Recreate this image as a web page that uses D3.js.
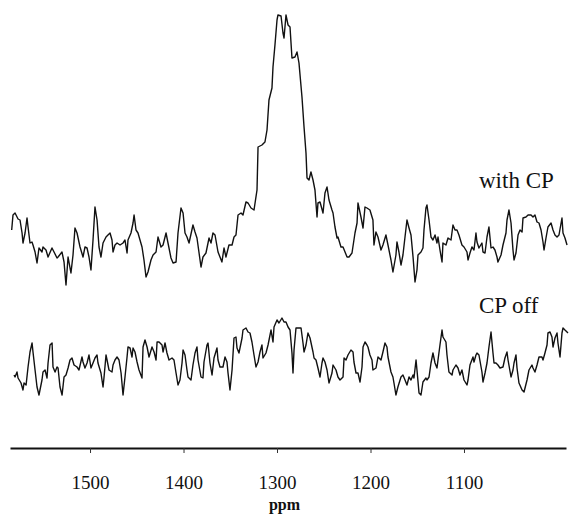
<!DOCTYPE html>
<html>
<head>
<meta charset="utf-8">
<script src="https://cdn.jsdelivr.net/npm/d3@7"></script>
<style>
  body { margin: 0; background: #fff; }
  svg { display: block; }
  .trace { fill: none; stroke: #111; stroke-width: 1.4; stroke-linejoin: round; }
  .label { font-family: "Liberation Serif", "Times New Roman", serif; font-size: 23px; fill: #111; }
</style>
</head>
<body>
<div id="chart"></div>
<script>
// spectrum with cross polarisation, [ppm, intensity a.u.]
const withCP = [
  [1583.8,20],[1582.4,35],[1580.2,37],[1577.0,31],[1574.9,30],[1572.7,17],[1571.7,7],[1569.5,17],
  [1567.4,32],[1566.3,23],[1564.2,7],[1562.1,8],[1561.0,5],[1558.8,-2],[1556.7,-13],[1554.6,2],
  [1551.4,-2],[1550.3,3],[1547.1,0],[1544.9,-7],[1540.7,2],[1538.5,-2],[1535.3,-8],[1534.2,-7],
  [1530.0,-2],[1527.8,-12],[1525.7,-35],[1523.5,-7],[1520.4,-23],[1518.2,-5],[1516.1,22],[1513.9,17],
  [1510.7,3],[1507.5,-7],[1505.4,3],[1503.2,2],[1501.1,-7],[1499.0,-20],[1496.8,10],[1494.7,43],
  [1492.5,30],[1490.4,3],[1488.3,-7],[1486.1,7],[1482.9,13],[1480.8,15],[1478.6,17],[1476.5,10],
  [1475.4,-2],[1473.3,5],[1471.1,7],[1467.9,5],[1464.7,7],[1462.6,10],[1460.4,-3],[1459.4,10],
  [1456.2,17],[1454.0,27],[1452.9,35],[1450.8,20],[1448.7,17],[1444.4,3],[1442.3,-10],[1440.1,-27],
  [1438.0,-22],[1434.8,-10],[1432.6,-5],[1429.4,-2],[1427.3,13],[1424.1,3],[1421.9,5],[1418.7,17],
  [1416.6,7],[1413.4,-8],[1411.2,-13],[1408.0,-12],[1405.9,17],[1402.7,42],[1400.5,37],[1398.4,17],
  [1396.3,13],[1394.1,7],[1389.9,25],[1387.7,18],[1385.6,12],[1381.3,-17],[1379.2,-7],[1376.0,-3],
  [1372.7,12],[1370.6,7],[1368.5,17],[1366.3,15],[1363.1,-2],[1358.9,-12],[1356.7,2],[1354.6,-7],
  [1351.4,5],[1348.1,5],[1346.0,13],[1343.9,15],[1341.7,35],[1338.5,37],[1336.4,35],[1333.2,48],
  [1331.0,47],[1327.8,42],[1324.6,40],[1321.4,60],[1320.3,103],[1316.1,105],[1312.9,108],[1310.7,120],
  [1308.6,150],[1305.4,162],[1304.3,183],[1302.2,205],[1300.0,230],[1299.0,235],[1295.7,234],[1293.6,217],
  [1292.5,212],[1290.4,235],[1288.2,225],[1286.1,223],[1284.0,192],[1280.8,193],[1278.6,198],[1276.5,187],
  [1273.3,153],[1271.1,123],[1269.0,97],[1267.9,72],[1265.8,70],[1263.7,78],[1261.5,70],[1259.4,60],
  [1257.2,33],[1256.2,47],[1254.0,48],[1250.8,37],[1248.7,57],[1246.5,63],[1244.4,50],[1241.2,40],
  [1240.1,37],[1238.0,23],[1235.8,12],[1234.8,13],[1231.6,3],[1229.4,3],[1225.1,-7],[1223.0,-7],
  [1219.8,-3],[1216.6,17],[1214.4,27],[1213.4,47],[1210.2,33],[1208.0,22],[1205.9,43],[1203.8,42],
  [1200.6,40],[1197.4,30],[1196.3,5],[1194.2,18],[1192.0,13],[1188.8,0],[1186.7,5],[1183.5,15],
  [1181.3,5],[1178.1,-10],[1176.0,-22],[1172.8,-5],[1171.7,8],[1169.6,-2],[1167.4,-15],[1165.3,-5],
  [1163.1,13],[1161.0,30],[1158.8,22],[1156.7,15],[1154.5,-7],[1152.4,-32],[1150.3,-20],[1149.2,-5],
  [1146.0,-2],[1143.9,2],[1142.8,20],[1140.7,42],[1139.6,45],[1137.4,30],[1135.3,13],[1133.2,10],
  [1131.0,15],[1128.9,7],[1127.8,13],[1125.7,0],[1123.5,-12],[1122.5,7],[1119.3,5],[1117.1,12],
  [1113.9,10],[1111.8,25],[1109.6,20],[1107.5,20],[1105.4,15],[1102.2,5],[1100.0,3],[1096.8,-2],
  [1095.7,-10],[1093.6,-3],[1091.5,3],[1089.3,0],[1087.2,17],[1086.1,8],[1084.0,2],[1080.8,7],
  [1079.7,-2],[1077.5,-3],[1075.4,13],[1073.3,23],[1071.1,2],[1069.0,3],[1066.9,0],[1064.7,-7],
  [1063.7,-12],[1060.4,-5],[1058.3,5],[1055.1,17],[1054.0,30],[1051.9,40],[1049.7,27],[1047.6,0],
  [1046.5,-10],[1044.4,-3],[1042.2,15],[1040.1,20],[1037.9,18],[1036.9,32],[1033.7,33],[1031.5,35],
  [1028.3,35],[1026.2,33],[1024.1,35],[1021.9,28],[1019.8,27],[1017.6,20],[1015.5,8],[1014.4,0],
  [1012.3,12],[1010.2,23],[1006.9,27],[1004.8,20],[1002.7,15],[1000.5,13],[998.4,15],[995.2,32],
  [994.1,17],[992.0,12],[989.8,5]
];

// same sample, CP switched off
const cpOff = [
  [1581.3,-5],[1580.2,-7],[1578.1,-2],[1577.0,-8],[1573.8,-13],[1571.7,-20],[1570.6,-13],[1568.4,-15],
  [1566.3,3],[1564.2,18],[1562.0,27],[1561.0,18],[1558.8,0],[1556.7,-17],[1554.6,-25],[1551.4,-10],
  [1550.3,-2],[1548.1,0],[1546.0,-8],[1544.9,7],[1542.8,25],[1540.6,27],[1539.6,3],[1537.4,-2],
  [1535.3,3],[1534.2,2],[1532.1,-17],[1529.9,-25],[1527.8,-7],[1525.7,-5],[1523.5,2],[1521.4,10],
  [1519.3,12],[1517.1,5],[1513.9,3],[1511.8,0],[1508.6,13],[1507.5,8],[1505.4,2],[1503.2,7],
  [1501.1,15],[1499.0,2],[1496.8,7],[1494.7,12],[1492.5,15],[1491.5,7],[1488.3,-3],[1486.1,-17],
  [1485.0,-7],[1482.9,15],[1481.8,10],[1479.7,0],[1476.5,-2],[1475.4,5],[1473.3,10],[1471.1,13],
  [1469.0,10],[1466.8,-3],[1464.7,-25],[1462.6,-7],[1460.4,13],[1459.4,23],[1457.2,22],[1455.1,13],
  [1454.0,22],[1451.9,18],[1449.7,8],[1447.6,0],[1444.4,-8],[1443.3,23],[1441.2,30],[1439.0,23],
  [1436.9,13],[1433.7,23],[1431.5,18],[1429.4,10],[1428.3,28],[1426.2,28],[1423.0,25],[1421.9,18],
  [1419.8,27],[1417.7,17],[1415.5,10],[1412.3,12],[1410.2,10],[1408.0,-3],[1405.9,-15],[1403.8,-10],
  [1401.6,7],[1400.5,20],[1398.4,15],[1396.3,0],[1395.2,-7],[1392.0,-10],[1389.9,5],[1387.7,17],
  [1385.6,23],[1384.5,10],[1381.3,-7],[1379.2,-8],[1378.1,8],[1374.9,25],[1373.8,27],[1371.7,7],
  [1369.5,-5],[1367.4,12],[1364.2,22],[1363.1,10],[1361.0,3],[1357.8,3],[1355.6,13],[1353.5,8],
  [1352.4,-3],[1350.3,-20],[1348.1,0],[1346.0,32],[1343.9,33],[1342.8,22],[1340.7,17],[1337.4,32],
  [1336.4,40],[1333.2,42],[1331.0,38],[1328.9,37],[1326.8,28],[1324.6,15],[1322.5,3],[1320.3,8],
  [1318.2,18],[1316.1,25],[1315.0,12],[1311.8,17],[1309.6,25],[1306.4,40],[1304.3,28],[1303.2,43],
  [1300.0,50],[1297.9,47],[1294.7,52],[1292.5,48],[1290.4,48],[1288.2,43],[1286.1,40],[1284.0,17],
  [1282.9,-3],[1281.8,20],[1279.7,42],[1277.5,42],[1274.3,42],[1272.2,27],[1271.1,18],[1269.0,25],
  [1266.9,37],[1264.7,32],[1261.5,18],[1260.4,12],[1258.3,10],[1256.2,2],[1254.0,-7],[1251.9,7],
  [1250.8,12],[1248.7,8],[1246.5,0],[1244.4,-13],[1241.2,-3],[1240.1,5],[1236.9,0],[1234.8,-7],
  [1232.6,-10],[1229.4,-7],[1228.3,12],[1226.2,10],[1224.1,15],[1220.9,20],[1218.7,18],[1217.7,8],
  [1215.5,-3],[1213.4,-3],[1211.2,-12],[1209.1,3],[1208.0,23],[1205.9,28],[1203.8,25],[1202.7,23],
  [1200.6,15],[1198.4,10],[1197.4,0],[1194.1,2],[1192.0,13],[1188.8,10],[1186.7,18],[1184.5,27],
  [1182.4,23],[1181.3,13],[1178.1,-2],[1176.0,-7],[1174.9,-13],[1172.8,-25],[1170.7,-17],[1167.4,-7],
  [1165.3,-5],[1163.1,-10],[1161.0,-15],[1158.8,-7],[1156.7,-10],[1154.5,-5],[1153.5,-8],[1151.3,10],
  [1150.3,0],[1148.1,-23],[1146.0,-25],[1143.9,-12],[1140.7,-8],[1139.6,-10],[1137.4,-7],[1135.3,7],
  [1133.2,17],[1131.0,7],[1128.9,2],[1127.8,10],[1125.7,25],[1123.5,40],[1122.5,33],[1119.3,28],
  [1118.2,15],[1116.1,-2],[1112.8,-5],[1111.8,0],[1108.6,5],[1106.4,2],[1104.3,-5],[1102.2,0],
  [1100.0,-10],[1096.8,-15],[1095.7,-10],[1093.6,5],[1090.4,13],[1089.3,8],[1087.2,15],[1086.1,17],
  [1084.0,15],[1080.8,-2],[1079.7,-12],[1077.5,-3],[1075.4,7],[1073.3,23],[1071.1,38],[1069.0,17],
  [1067.9,7],[1065.8,7],[1063.7,5],[1061.5,2],[1058.3,3],[1056.2,12],[1054.0,18],[1052.9,10],
  [1049.7,-7],[1047.6,0],[1046.5,7],[1044.4,15],[1043.3,2],[1041.2,-13],[1037.9,-20],[1035.8,-22],
  [1032.6,-10],[1030.5,0],[1027.3,5],[1026.2,2],[1024.1,-2],[1021.9,5],[1019.8,13],[1016.6,13],
  [1015.5,10],[1013.4,17],[1011.2,25],[1010.2,37],[1008.0,38],[1005.9,33],[1004.8,23],[1002.7,32],
  [1000.5,37],[999.5,27],[997.3,13],[995.2,37],[994.1,42],[992.0,40],[989.8,38],[988.8,37]
];

const ppmTicks = [1500, 1400, 1300, 1200, 1100];
const traceNames = ["with CP", "CP off"];
const traceOffsets = [120, 0];   // vertical stacking, a.u.

const width = 570, height = 516;
const axisY = 448;

const svg = d3.select("#chart").append("svg")
    .attr("width", width)
    .attr("height", height);

// ppm axis runs right to left
const x = d3.scaleLinear().domain([1585.6, 990.9]).range([10, 566]);
const y = d3.scaleLinear().domain([0, 370]).range([370, 0]);

const line = d3.line()
    .x(d => x(d[0]))
    .y(d => y(d[1]));

[withCP, cpOff].forEach((data, i) => {
    svg.append("path")
        .attr("class", "trace")
        .attr("d", line(data.map(d => [d[0], d[1] + traceOffsets[i]])));
});

svg.append("text").attr("class", "label")
    .attr("x", 479).attr("y", 188).text(traceNames[0]);
svg.append("text").attr("class", "label")
    .attr("x", 479).attr("y", 313).text(traceNames[1]);

const axis = svg.append("g")
    .attr("transform", `translate(0,${axisY})`)
    .call(d3.axisBottom(x).tickValues(ppmTicks).tickSize(5).tickSizeOuter(0).tickPadding(23)
        .tickFormat(d3.format("d")));

axis.select(".domain").attr("stroke", "#111").attr("stroke-width", 2.2);
axis.selectAll(".tick line").attr("stroke", "#333").attr("stroke-width", 1);
axis.selectAll(".tick text")
    .attr("fill", "#111")
    .style("font-family", "'Liberation Serif', 'Times New Roman', serif")
    .style("font-size", "19px");

svg.append("text")
    .attr("x", x(1292)).attr("y", 510)
    .attr("text-anchor", "middle")
    .style("font-family", "'Liberation Serif', 'Times New Roman', serif")
    .style("font-size", "16px")
    .style("font-weight", "bold")
    .attr("fill", "#111")
    .text("ppm");
</script>
</body>
</html>
